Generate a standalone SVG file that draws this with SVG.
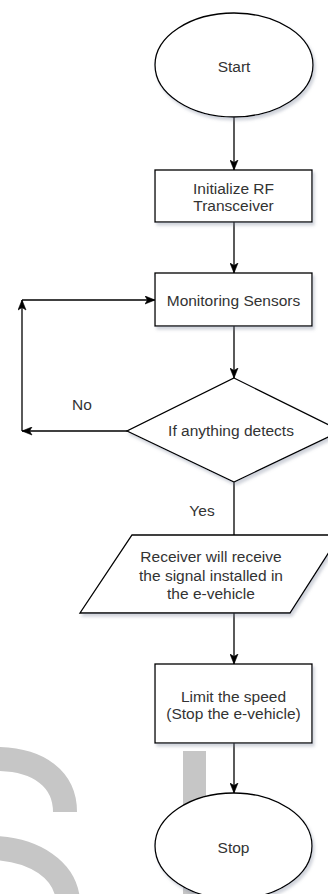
<svg xmlns="http://www.w3.org/2000/svg" width="328" height="894" viewBox="0 0 328 894">
  <style>
    .shape { fill: #ffffff; stroke: #000000; stroke-width: 1.3; filter: url(#shadow); }
    .lbl { font-family: "Liberation Sans", Arial, sans-serif; font-size: 15.5px; fill: #333333; text-anchor: middle; }
    .edge { fill: none; stroke: #000000; stroke-width: 1.3; }
    .arrow { marker-end: url(#arrow); }
    .wm { fill: none; stroke: #c6c6c6; stroke-width: 24; }
  </style>
  <defs>
    <filter id="shadow" x="-10%" y="-10%" width="130%" height="140%">
      <feDropShadow dx="2" dy="3" stdDeviation="1.5" flood-color="#7a8298" flood-opacity="0.35"/>
    </filter>
    <marker id="arrow" markerUnits="userSpaceOnUse" markerWidth="11" markerHeight="9" viewBox="0 0 11 9" refX="10.5" refY="4.5" orient="auto">
      <path d="M0.5,0.5 L10.5,4.5 L0.5,8.5 L3,4.5 Z" fill="#000000" stroke="#000000" stroke-width="0.6"/>
    </marker>
  </defs>
  <rect width="328" height="894" fill="#ffffff"/>

  <g id="watermark">
    <rect x="183" y="751" width="23" height="143" fill="#c6c6c6"/>
    <path class="wm" d="M-5,759 C40,759 65,780 65,812"/>
    <path class="wm" d="M-5,848 C35,850 65,870 68,900"/>
  </g>

  <g id="connectors">
    <line class="edge arrow" x1="234" y1="117" x2="234" y2="170"/>
    <line class="edge arrow" x1="234" y1="222" x2="234" y2="273"/>
    <line class="edge arrow" x1="234" y1="326" x2="234" y2="378"/>
    <line class="edge arrow" x1="127" y1="431" x2="22" y2="431"/>
    <line class="edge arrow" x1="22" y1="431" x2="22" y2="300"/>
    <line class="edge arrow" x1="22" y1="300" x2="155" y2="300"/>
    <line class="edge" x1="234" y1="482" x2="234" y2="535"/>
    <line class="edge arrow" x1="234" y1="613" x2="234" y2="664"/>
    <line class="edge arrow" x1="234" y1="743" x2="234" y2="793"/>
    <text class="lbl" x="82" y="410">No</text>
    <text class="lbl" x="202" y="516">Yes</text>
  </g>

  <g id="start">
    <ellipse class="shape" cx="234" cy="65" rx="79" ry="52"/>
    <text class="lbl" x="234" y="72">Start</text>
  </g>

  <g id="init">
    <rect class="shape" x="155" y="170" width="157" height="52"/>
    <text class="lbl" x="233.5" y="194">Initialize RF</text>
    <text class="lbl" x="233.5" y="211">Transceiver</text>
  </g>

  <g id="monitor">
    <rect class="shape" x="155" y="273" width="157" height="53"/>
    <text class="lbl" x="233.5" y="306">Monitoring Sensors</text>
  </g>

  <g id="decision">
    <polygon class="shape" points="234,378 341,431 234,482 127,431"/>
    <text class="lbl" x="231" y="436">If anything detects</text>
  </g>

  <g id="receive">
    <polygon class="shape" points="132,535 340,535 290,613 80,613"/>
    <text class="lbl" x="211" y="562">Receiver will receive</text>
    <text class="lbl" x="211" y="581">the signal installed in</text>
    <text class="lbl" x="211" y="599">the e-vehicle</text>
  </g>

  <g id="limit">
    <rect class="shape" x="155" y="664" width="157" height="79"/>
    <text class="lbl" x="233.5" y="702">Limit the speed</text>
    <text class="lbl" x="233.5" y="719">(Stop the e-vehicle)</text>
  </g>

  <g id="stop">
    <ellipse class="shape" cx="233.5" cy="846" rx="78.5" ry="53"/>
    <text class="lbl" x="233.5" y="853">Stop</text>
  </g>
</svg>
